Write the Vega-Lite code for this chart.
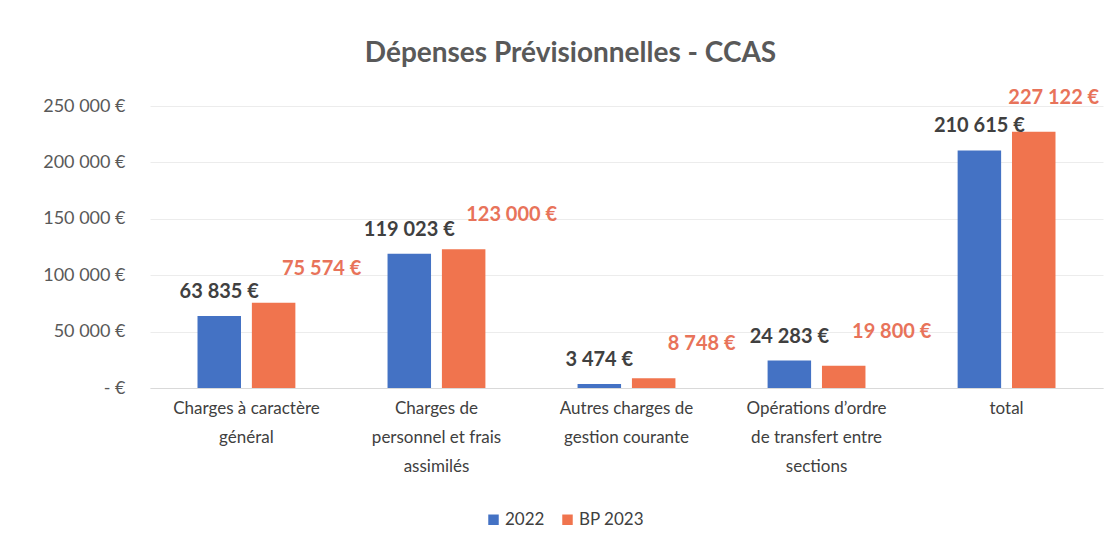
{
  "$schema": "https://vega.github.io/schema/vega-lite/v6.json",
  "width": 953,
  "height": 282,
  "autosize": "none",
  "padding": {"left": 150, "top": 106, "right": 13, "bottom": 169},
  "background": "white",
  "config": {
    "locale": {
      "number": {"decimal": ",", "thousands": " ", "grouping": [3], "currency": ["", " €"]}
    },
    "font": "Lato",
    "view": {"stroke": null}
  },
  "title": {
    "text": "Dépenses Prévisionnelles - CCAS",
    "fontSize": 28,
    "fontWeight": "bold",
    "color": "#595959",
    "font": "Lato",
    "anchor": "middle",
    "dx": -56,
    "offset": 20
  },
  "data": {
    "values": [
      {"cat": "Charges à caractère|général", "series": "2022", "value": 63835},
      {"cat": "Charges à caractère|général", "series": "BP 2023", "value": 75574},
      {"cat": "Charges de|personnel et frais|assimilés", "series": "2022", "value": 119023},
      {"cat": "Charges de|personnel et frais|assimilés", "series": "BP 2023", "value": 123000},
      {"cat": "Autres charges de|gestion courante", "series": "2022", "value": 3474},
      {"cat": "Autres charges de|gestion courante", "series": "BP 2023", "value": 8748},
      {"cat": "Opérations d’ordre|de transfert entre|sections", "series": "2022", "value": 24283},
      {"cat": "Opérations d’ordre|de transfert entre|sections", "series": "BP 2023", "value": 19800},
      {"cat": "total", "series": "2022", "value": 210615},
      {"cat": "total", "series": "BP 2023", "value": 227122}
    ]
  },
  "encoding": {
    "x": {
      "field": "cat",
      "type": "nominal",
      "sort": null,
      "scale": {"paddingInner": 0.485, "paddingOuter": 0.25},
      "axis": {
        "title": null,
        "labelAngle": 0,
        "labelExpr": "split(datum.label, '|')",
        "labelFontSize": 17,
        "labelColor": "#404040",
        "labelLineHeight": 29,
        "labelPadding": 12,
        "labelBaseline": "top",
        "ticks": false,
        "domainColor": "#d9d9d9",
        "labelLimit": 200
      }
    },
    "xOffset": {"field": "series", "type": "nominal", "scale": {"paddingInner": 0.2}},
    "y": {
      "field": "value",
      "type": "quantitative",
      "scale": {"domain": [0, 250000]},
      "axis": {
        "title": null,
        "values": [0, 50000, 100000, 150000, 200000, 250000],
        "format": "$,.0f",
        "labelExpr": "datum.value === 0 ? '-    €' : datum.label",
        "labelFontSize": 18,
        "labelColor": "#595959",
        "labelPadding": 25,
        "ticks": false,
        "domain": false,
        "gridColor": "#ececec"
      }
    }
  },
  "layer": [
    {
      "mark": {"type": "bar"},
      "encoding": {
        "color": {
          "field": "series",
          "type": "nominal",
          "scale": {"domain": ["2022", "BP 2023"], "range": ["#4472c4", "#f0744e"]},
          "legend": {
            "title": null,
            "orient": "none",
            "legendX": 335,
            "legendY": 405,
            "direction": "horizontal",
            "symbolType": "square",
            "symbolSize": 110,
            "labelFontSize": 17,
            "labelColor": "#404040",
            "columnPadding": 14,
            "labelOffset": 3
          }
        }
      }
    },
    {
      "transform": [{"filter": "datum.series === '2022'"}],
      "mark": {"type": "text", "fontSize": 20, "fontWeight": "bold", "color": "#404040", "baseline": "bottom", "dy": -14},
      "encoding": {"text": {"field": "value", "type": "quantitative", "format": "$,.0f"}}
    },
    {
      "transform": [{"filter": "datum.series === 'BP 2023' && datum.cat !== 'total'"}],
      "mark": {"type": "text", "fontSize": 20, "fontWeight": "bold", "color": "#e8735a", "baseline": "bottom", "dy": -24, "dx": 48},
      "encoding": {"text": {"field": "value", "type": "quantitative", "format": "$,.0f"}}
    },
    {
      "transform": [{"filter": "datum.series === 'BP 2023' && datum.cat === 'total'"}],
      "mark": {"type": "text", "fontSize": 20, "fontWeight": "bold", "color": "#e8735a", "baseline": "bottom", "dy": -24, "dx": 20},
      "encoding": {"text": {"field": "value", "type": "quantitative", "format": "$,.0f"}}
    }
  ]
}
